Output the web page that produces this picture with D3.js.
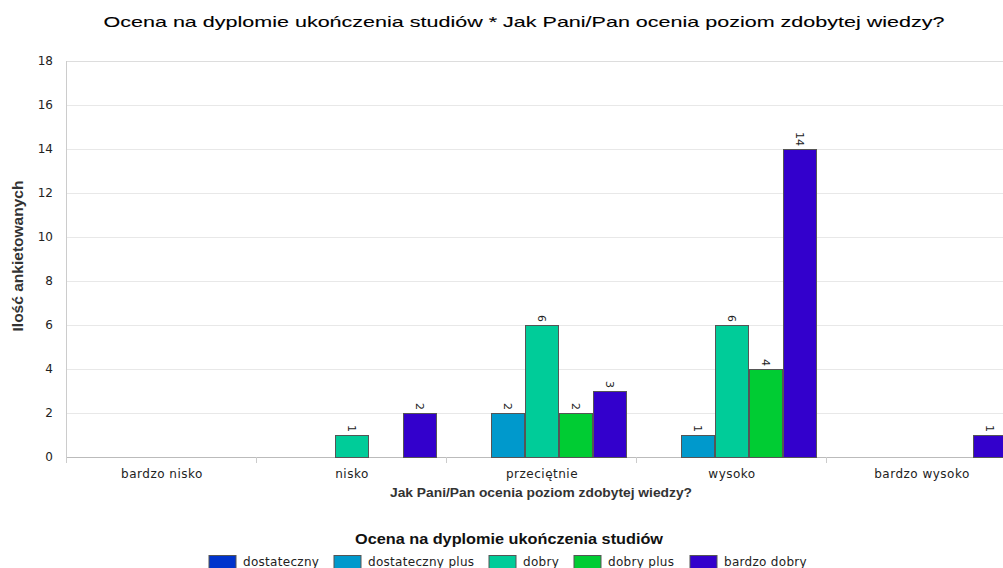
<!DOCTYPE html>
<html>
<head>
<meta charset="utf-8">
<script src="https://cdn.jsdelivr.net/npm/d3@7"></script>
<style>
  html, body { margin: 0; padding: 0; background: #fff; overflow: hidden; }
  svg { display: block; }
</style>
</head>
<body>
<svg id="chart" width="1003" height="568"></svg>
<script>
const categories = ["bardzo nisko", "nisko", "przeciętnie", "wysoko", "bardzo wysoko"];
const seriesNames = ["dostateczny", "dostateczny plus", "dobry", "dobry plus", "bardzo dobry"];
const seriesColors = ["#0033cc", "#0099cc", "#00cc99", "#00cc33", "#3300cc"];
// values per series, in category order (null = no bar)
const dostateczny     = [null, null, null, null, null];
const dostatecznyPlus = [null, null, 2, 1, null];
const dobry           = [null, 1, 6, 6, null];
const dobryPlus       = [null, null, 2, 4, null];
const bardzoDobry     = [null, 2, 3, 14, 1];
const yTicks = [0, 2, 4, 6, 8, 10, 12, 14, 16, 18];

const title = "Ocena na dyplomie ukończenia studiów * Jak Pani/Pan ocenia poziom zdobytej wiedzy?";
const xTitle = "Jak Pani/Pan ocenia poziom zdobytej wiedzy?";
const yTitle = "Ilość ankietowanych";
const legendTitle = "Ocena na dyplomie ukończenia studiów";

const seriesValues = [dostateczny, dostatecznyPlus, dobry, dobryPlus, bardzoDobry];

const svg = d3.select("#chart");
const margin = { left: 67, top: 61 };
const plotW = 950, plotH = 396;
const tickFont = "DejaVu Sans, sans-serif";

const x0 = d3.scaleBand().domain(categories).range([0, plotW]).paddingInner(0).paddingOuter(0);
const x1 = d3.scaleBand().domain(seriesNames).range([10, x0.bandwidth() - 10]).padding(0);
const y = d3.scaleLinear().domain([0, 18]).range([plotH, 0]);

const g = svg.append("g").attr("transform", `translate(${margin.left},${margin.top})`);

// gridlines
g.append("g").selectAll("line").data(yTicks.filter(t => t > 0 && t < 18)).join("line")
  .attr("x1", 0).attr("x2", plotW)
  .attr("y1", d => y(d) + 0.5).attr("y2", d => y(d) + 0.5)
  .attr("stroke", "#e8e8e8").attr("stroke-width", 1);
// top border
g.append("line").attr("x1", 0).attr("x2", plotW).attr("y1", 0.5).attr("y2", 0.5)
  .attr("stroke", "#dddddd");

// y axis
const yAxis = d3.axisLeft(y).tickValues(yTicks).tickSize(0).tickPadding(14);
const ya = g.append("g").call(yAxis);
ya.select(".domain").attr("stroke", "#cccccc").attr("d", `M-0.5,0V${plotH}`);
ya.selectAll("text").attr("font-family", tickFont).attr("font-size", 12).attr("fill", "#222");

// x axis
const xAxis = d3.axisBottom(x0).tickSize(0).tickPadding(12);
const xa = g.append("g").attr("transform", `translate(0,${plotH})`).call(xAxis);
xa.select(".domain").attr("stroke", "#bbbbbb").attr("d", `M-0.5,0.5H${plotW}`);
xa.selectAll("text").attr("font-family", tickFont).attr("font-size", 12)
  .attr("letter-spacing", "0.5px").attr("fill", "#222");
// category boundary ticks
xa.append("g").selectAll("line").data(categories).join("line")
  .attr("x1", d => x0(d) - 0.5).attr("x2", d => x0(d) - 0.5)
  .attr("y1", 0).attr("y2", 6).attr("stroke", "#cccccc");

// bars
const barData = [];
seriesNames.forEach((s, si) => {
  categories.forEach((c, ci) => {
    const v = seriesValues[si][ci];
    if (v !== null && v !== undefined) barData.push({ s, si, c, v });
  });
});

const bars = g.append("g");
bars.selectAll("rect").data(barData).join("rect")
  .attr("x", d => x0(d.c) + x1(d.s) + 0.5)
  .attr("y", d => y(d.v) + 0.5)
  .attr("width", x1.bandwidth() - 1)
  .attr("height", d => y(0) - y(d.v))
  .attr("fill", d => seriesColors[d.si])
  .attr("stroke", "#555555").attr("stroke-width", 1);

bars.selectAll("text").data(barData).join("text")
  .attr("transform", d => `translate(${x0(d.c) + x1(d.s) + x1.bandwidth() / 2},${y(d.v) - 3}) rotate(90)`)
  .attr("text-anchor", "end").attr("dy", "0.35em")
  .attr("font-family", tickFont).attr("font-size", 11).attr("fill", "#222")
  .text(d => d.v);

// title
svg.append("text").attr("x", 524).attr("y", 27).attr("text-anchor", "middle")
  .attr("font-family", "Liberation Sans, Arial, sans-serif").attr("font-size", 15).attr("fill", "#000")
  .attr("stroke", "#000").attr("stroke-width", 0.1)
  .attr("textLength", 841).attr("lengthAdjust", "spacingAndGlyphs")
  .text(title);

// axis titles
svg.append("text").attr("x", 541).attr("y", 497).attr("text-anchor", "middle")
  .attr("font-family", "Liberation Sans Narrow, Liberation Sans, Arial, sans-serif").attr("font-weight", "bold")
  .attr("font-size", 12).attr("fill", "#333")
  .attr("textLength", 302).attr("lengthAdjust", "spacingAndGlyphs")
  .text(xTitle);

svg.append("text").attr("transform", "translate(23,256) rotate(-90)").attr("text-anchor", "middle")
  .attr("font-family", "Liberation Sans Narrow, Liberation Sans, Arial, sans-serif").attr("font-weight", "bold")
  .attr("font-size", 14).attr("fill", "#333")
  .attr("textLength", 151).attr("lengthAdjust", "spacingAndGlyphs")
  .text(yTitle);

// legend
svg.append("text").attr("x", 509).attr("y", 544).attr("text-anchor", "middle")
  .attr("font-family", "Liberation Sans Narrow, Liberation Sans, Arial, sans-serif").attr("font-weight", "bold")
  .attr("font-size", 15).attr("fill", "#111")
  .attr("textLength", 308).attr("lengthAdjust", "spacingAndGlyphs")
  .text(legendTitle);

const legend = svg.append("g");
const items = legend.selectAll("g").data(seriesNames).join("g");
items.append("rect").attr("width", 27).attr("height", 14).attr("y", 555.5)
  .attr("fill", (d, i) => seriesColors[i]).attr("stroke", "#555");
items.append("text").attr("x", 34).attr("y", 566)
  .attr("font-family", tickFont).attr("font-size", 12).attr("letter-spacing", "0.3px").attr("fill", "#222")
  .text(d => d);
let cx = 0;
const widths = [];
items.each(function () {
  const w = 34 + this.querySelector("text").getComputedTextLength();
  widths.push(w);
});
const gap = 15;
const total = d3.sum(widths) + gap * (widths.length - 1);
cx = 507.5 - total / 2;
items.attr("transform", (d, i) => {
  const t = `translate(${Math.round(cx)},0)`;
  cx += widths[i] + gap;
  return t;
});
</script>
</body>
</html>
